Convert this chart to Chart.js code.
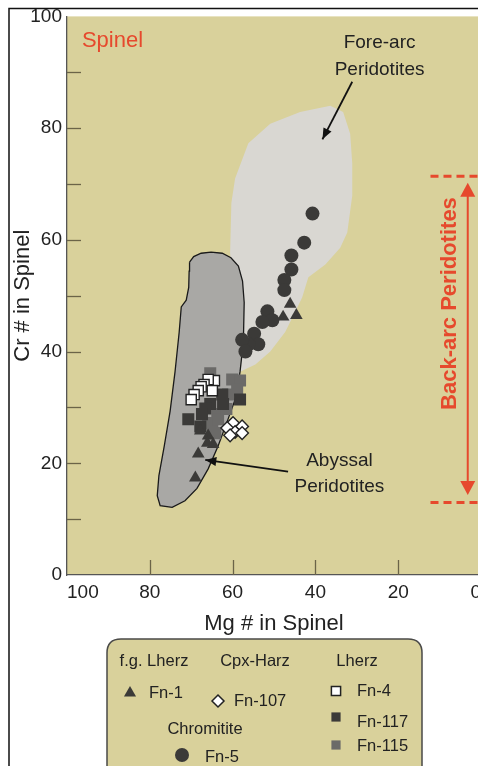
<!DOCTYPE html>
<html>
<head>
<meta charset="utf-8">
<script src="https://cdn.jsdelivr.net/npm/chart.js@4.4.0/dist/chart.umd.min.js"></script>
<style>
  html, body { margin: 0; padding: 0; overflow: hidden; background: #fff; }
  #wrap { position: relative; width: 500px; height: 766px; }
</style>
</head>
<body>
<div id="wrap"><canvas id="chart" width="500" height="766"></canvas></div>
<script>
// axis ticks (x runs reversed, 100 on the left)
const xTicks = [0, 20, 40, 60, 80, 100];
const yTicks = [0, 20, 40, 60, 80, 100];
const xTickMarks = [80, 60, 40, 20];
const yTickMarks = [10, 20, 30, 40, 50, 60, 70, 80, 90];

// fields (Mg#, Cr#)
const foreArcMg = [58.2, 58.9, 59.9, 60.6, 60.3, 59.4, 56.2, 50.9, 43.7, 36.4, 33.3, 31.6, 31.1, 31.1, 32.3, 34.0, 37.6, 41.7, 43.2, 44.9, 47.3, 50.9, 54.5, 58.2];
const foreArcCr = [36.4, 43.5, 50.6, 57.7, 66.6, 71.0, 77.3, 80.8, 82.9, 84.0, 82.9, 79.0, 73.7, 67.9, 61.3, 58.6, 55.6, 53.3, 49.7, 47.1, 43.5, 40.0, 37.7, 36.4];
const abyssalMg = [70.4, 69.4, 67.6, 65.2, 62.5, 60.4, 58.6, 57.6, 57.2, 57.4, 58.2, 59.1, 61.1, 63.5, 65.9, 68.6, 71.5, 74.6, 77.5, 78.2, 77.8, 76.5, 75.1, 73.9, 72.9, 72.4, 71.2, 70.6, 70.5, 70.4];
const abyssalCr = [56.0, 57.0, 57.6, 57.8, 57.6, 56.8, 55.3, 52.6, 48.8, 41.7, 36.4, 32.0, 27.9, 23.1, 19.0, 15.5, 13.3, 12.1, 12.4, 14.2, 17.8, 23.1, 29.3, 36.4, 43.5, 48.0, 49.2, 51.5, 54.4, 56.0];

// samples
const fn1Mg = [46.1, 47.8, 44.6, 67.8, 65.9, 66.1, 64.7, 68.3, 69.0];
const fn1Cr = [48.5, 46.2, 46.5, 25.8, 24.9, 23.6, 23.4, 21.7, 17.4];
const fn107Mg = [59.9, 57.7, 61.3, 59.4, 60.6, 57.7];
const fn107Cr = [27.2, 26.6, 26.3, 25.6, 25.0, 25.4];
const fn4Mg = [64.4, 65.9, 66.9, 64.9, 67.6, 68.3, 69.3, 70.0];
const fn4Cr = [34.8, 35.0, 34.1, 33.0, 33.7, 33.0, 32.3, 31.4];
const fn117Mg = [62.5, 58.2, 65.4, 62.3, 66.6, 70.7, 67.4, 67.8];
const fn117Cr = [32.3, 31.4, 30.6, 30.6, 29.8, 27.9, 28.8, 26.6];
const fn115Mg = [65.4, 60.1, 58.2, 58.9, 61.1, 63.7, 65.9, 64.9, 63.5, 61.5, 64.2];
const fn115Cr = [36.1, 35.0, 34.8, 33.2, 32.3, 28.8, 27.2, 26.3, 27.9, 29.7, 25.4];
const fn5Mg = [40.7, 42.7, 45.8, 45.8, 47.5, 47.5, 51.6, 50.4, 52.8, 54.8, 53.8, 56.2, 57.7, 56.9];
const fn5Cr = [64.7, 59.5, 57.2, 54.7, 52.8, 51.0, 47.2, 45.6, 45.3, 43.2, 41.3, 41.3, 42.1, 40.0];

const KHAKI = "#d9d19b";
const RED = "#e6492d";
const DARK = "#3b3a38";
const MID = "#6b6a68";
const FONT = "'Liberation Sans', Arial, sans-serif";

const toXY = (xs, ys) => xs.map((x, i) => ({ x, y: ys[i] }));

function pts(style, radius, fill, border, bw) {
  return { pointStyle: style, pointRadius: radius, pointHoverRadius: radius, backgroundColor: fill, borderColor: border, borderWidth: bw };
}

function arrowHead(ctx, x1, y1, x2, y2, len, half) {
  const a = Math.atan2(y2 - y1, x2 - x1);
  ctx.beginPath();
  ctx.moveTo(x2, y2);
  ctx.lineTo(x2 - len * Math.cos(a) + half * Math.sin(a), y2 - len * Math.sin(a) - half * Math.cos(a));
  ctx.lineTo(x2 - len * Math.cos(a) - half * Math.sin(a), y2 - len * Math.sin(a) + half * Math.cos(a));
  ctx.closePath();
  ctx.fill();
}

function arrow(ctx, x1, y1, x2, y2, color) {
  ctx.save();
  ctx.strokeStyle = color;
  ctx.fillStyle = color;
  ctx.lineWidth = 1.8;
  ctx.beginPath();
  ctx.moveTo(x1, y1);
  ctx.lineTo(x2, y2);
  ctx.stroke();
  arrowHead(ctx, x1, y1, x2, y2, 11, 4.5);
  ctx.restore();
}

const decor = {
  id: "decor",
  beforeDraw(chart) {
    const { ctx, chartArea: a } = chart;
    ctx.save();
    ctx.fillStyle = KHAKI;
    ctx.fillRect(a.left, a.top, a.right - a.left, a.bottom - a.top);
    ctx.restore();
  },
  beforeDatasetsDraw(chart) {
    const { ctx, chartArea: a, scales: { x, y } } = chart;
    ctx.save();
    ctx.strokeStyle = "#6b6448";
    ctx.lineWidth = 1.3;
    yTickMarks.forEach((v) => {
      const py = Math.round(y.getPixelForValue(v)) + 0.5;
      ctx.beginPath(); ctx.moveTo(a.left, py); ctx.lineTo(a.left + 14, py); ctx.stroke();
    });
    xTickMarks.forEach((v) => {
      const px = Math.round(x.getPixelForValue(v)) + 0.5;
      ctx.beginPath(); ctx.moveTo(px, a.bottom); ctx.lineTo(px, a.bottom - 15); ctx.stroke();
    });
    ctx.restore();
  },
  afterDatasetsDraw(chart) {
    const { ctx, scales: { x, y } } = chart;
    const P = (mg, cr) => [x.getPixelForValue(mg), y.getPixelForValue(cr)];
    ctx.save();
    ctx.textAlign = "center";
    ctx.textBaseline = "middle";

    // Spinel
    ctx.fillStyle = RED;
    ctx.font = "22px " + FONT;
    ctx.textAlign = "left";
    let p = P(96.4, 95.6);
    ctx.fillText("Spinel", p[0], p[1]);

    // fore-arc label + arrow
    ctx.fillStyle = "#222";
    ctx.font = "19px " + FONT;
    ctx.textAlign = "center";
    p = P(24.5, 95.2); ctx.fillText("Fore-arc", p[0], p[1]);
    p = P(24.5, 90.4); ctx.fillText("Peridotites", p[0], p[1]);
    let s = P(31.1, 88.3), e = P(38.3, 78.0);
    arrow(ctx, s[0], s[1], e[0], e[1], "#111");

    // abyssal label + arrow
    p = P(34.2, 20.4); ctx.fillText("Abyssal", p[0], p[1]);
    p = P(34.2, 15.8); ctx.fillText("Peridotites", p[0], p[1]);
    s = P(46.6, 18.5); e = P(66.6, 20.6);
    arrow(ctx, s[0], s[1], e[0], e[1], "#111");

    // back-arc range
    ctx.strokeStyle = RED;
    ctx.fillStyle = RED;
    ctx.lineWidth = 3;
    ctx.setLineDash([8, 5]);
    [71.4, 13.0].forEach((v) => {
      const a1 = P(12.2, v), a2 = P(0, v);
      ctx.beginPath(); ctx.moveTo(a1[0], a1[1]); ctx.lineTo(a2[0], a2[1]); ctx.stroke();
    });
    ctx.setLineDash([]);
    const top = P(3.2, 70.2), bot = P(3.2, 14.3);
    ctx.lineWidth = 2;
    ctx.beginPath(); ctx.moveTo(top[0], top[1] + 8); ctx.lineTo(bot[0], bot[1] - 8); ctx.stroke();
    arrowHead(ctx, bot[0], bot[1] - 20, top[0], top[1], 14, 7.5);
    arrowHead(ctx, top[0], top[1] + 20, bot[0], bot[1], 14, 7.5);
    p = P(7.5, 48.6);
    ctx.translate(p[0], p[1]);
    ctx.rotate(-Math.PI / 2);
    ctx.font = "bold 22px " + FONT;
    ctx.fillText("Back-arc Peridotites", 0, 0);
    ctx.restore();
  },
  afterDraw(chart) {
    const { ctx } = chart;
    ctx.save();
    // figure frame
    ctx.strokeStyle = "#111";
    ctx.lineWidth = 1.5;
    ctx.beginPath();
    ctx.moveTo(9, 766); ctx.lineTo(9, 8.5); ctx.lineTo(500, 8.5);
    ctx.stroke();

    // legend box
    const bx = 107, by = 639, bw = 315, bh = 160, r = 14;
    ctx.beginPath();
    ctx.moveTo(bx + r, by);
    ctx.lineTo(bx + bw - r, by);
    ctx.quadraticCurveTo(bx + bw, by, bx + bw, by + r);
    ctx.lineTo(bx + bw, by + bh);
    ctx.lineTo(bx, by + bh);
    ctx.lineTo(bx, by + r);
    ctx.quadraticCurveTo(bx, by, bx + r, by);
    ctx.fillStyle = KHAKI;
    ctx.fill();
    ctx.strokeStyle = "#4a4a48";
    ctx.lineWidth = 1.5;
    ctx.stroke();

    ctx.fillStyle = "#222";
    ctx.font = "16.5px " + FONT;
    ctx.textBaseline = "middle";
    ctx.textAlign = "center";
    ctx.fillText("f.g. Lherz", 154, 661);
    ctx.fillText("Cpx-Harz", 255, 661);
    ctx.fillText("Lherz", 357, 661);
    ctx.fillText("Chromitite", 205, 729);
    ctx.textAlign = "left";
    ctx.fillText("Fn-1", 149, 693);
    ctx.fillText("Fn-107", 234, 701);
    ctx.fillText("Fn-4", 357, 691);
    ctx.fillText("Fn-117", 357, 722);
    ctx.fillText("Fn-115", 357, 746);
    ctx.fillText("Fn-5", 205, 757);

    const draw = (style, radius, fill, border, bwid, x0, y0) => {
      ctx.fillStyle = fill;
      ctx.strokeStyle = border;
      ctx.lineWidth = bwid;
      Chart.helpers.drawPoint(ctx, { pointStyle: style, radius, rotation: 0, borderWidth: bwid }, x0, y0);
    };
    draw("triangle", 7, DARK, DARK, 0, 130, 693);
    draw("rectRot", 6, "#fff", "#222", 1.5, 218, 701);
    draw("rect", 6.5, "#fff", "#222", 1.5, 336, 691);
    draw("rect", 6.5, DARK, DARK, 0, 336, 717);
    draw("rect", 6.5, MID, MID, 0, 336, 745);
    draw("circle", 7, DARK, DARK, 0, 182, 755);
    ctx.restore();
  }
};

const datasets = [
  { label: "Fore-arc Peridotites", data: toXY(foreArcMg, foreArcCr), showLine: true, fill: "shape",
    backgroundColor: "#d9d7d2", borderColor: "rgba(0,0,0,0)", borderWidth: 0, pointRadius: 0, tension: 0, order: 10 },
  { label: "Abyssal Peridotites", data: toXY(abyssalMg, abyssalCr), showLine: true, fill: "shape",
    backgroundColor: "#a9a8a5", borderColor: "#1a1a1a", borderWidth: 1.3, pointRadius: 0, tension: 0, order: 9 },
  { label: "Fn-115", data: toXY(fn115Mg, fn115Cr), ...pts("rect", 8.5, MID, MID, 0), order: 6 },
  { label: "Fn-117", data: toXY(fn117Mg, fn117Cr), ...pts("rect", 8.5, DARK, DARK, 0), order: 5 },
  { label: "Fn-4", data: toXY(fn4Mg, fn4Cr), ...pts("rect", 7.2, "#fff", "#222", 1.4), order: 4 },
  { label: "Fn-107", data: toXY(fn107Mg, fn107Cr), ...pts("rectRot", 6.3, "#fff", "#222", 1.4), order: 3 },
  { label: "Fn-1", data: toXY(fn1Mg, fn1Cr), ...pts("triangle", 7.3, DARK, DARK, 0), order: 2 },
  { label: "Fn-5", data: toXY(fn5Mg, fn5Cr), ...pts("circle", 7, DARK, DARK, 0), order: 1 }
];

new Chart(document.getElementById("chart"), {
  type: "scatter",
  data: { datasets },
  plugins: [decor],
  options: {
    responsive: false,
    animation: false,
    devicePixelRatio: 1,
    layout: { padding: { left: 0, top: 12, right: 19, bottom: 127 } },
    plugins: { legend: { display: false }, tooltip: { enabled: false } },
    scales: {
      x: {
        type: "linear",
        reverse: true,
        min: 0,
        max: 100,
        afterBuildTicks: (s) => { s.ticks = xTicks.map((v) => ({ value: v })); },
        afterFit: (s) => { s.height = 64; },
        grid: { display: false, drawTicks: false },
        border: { display: true, color: "#555", width: 1.3 },
        ticks: { align: "inner", autoSkip: false, padding: 6, color: "#222", font: { family: FONT, size: 19 }, maxRotation: 0 },
        title: { display: true, text: "Mg # in Spinel", color: "#222", font: { family: FONT, size: 22 }, padding: { top: 0, bottom: 2 } }
      },
      y: {
        type: "linear",
        min: 0,
        max: 100,
        afterBuildTicks: (s) => { s.ticks = yTicks.map((v) => ({ value: v })); },
        afterFit: (s) => { s.width = 67; },
        grid: { display: false, drawTicks: false },
        border: { display: true, color: "#555", width: 1.3 },
        ticks: { padding: 5, color: "#222", font: { family: FONT, size: 19 } },
        title: { display: true, text: "Cr # in Spinel", color: "#222", font: { family: FONT, size: 22 }, padding: { top: 10, bottom: 0 } }
      }
    }
  }
});
</script>
</body>
</html>
